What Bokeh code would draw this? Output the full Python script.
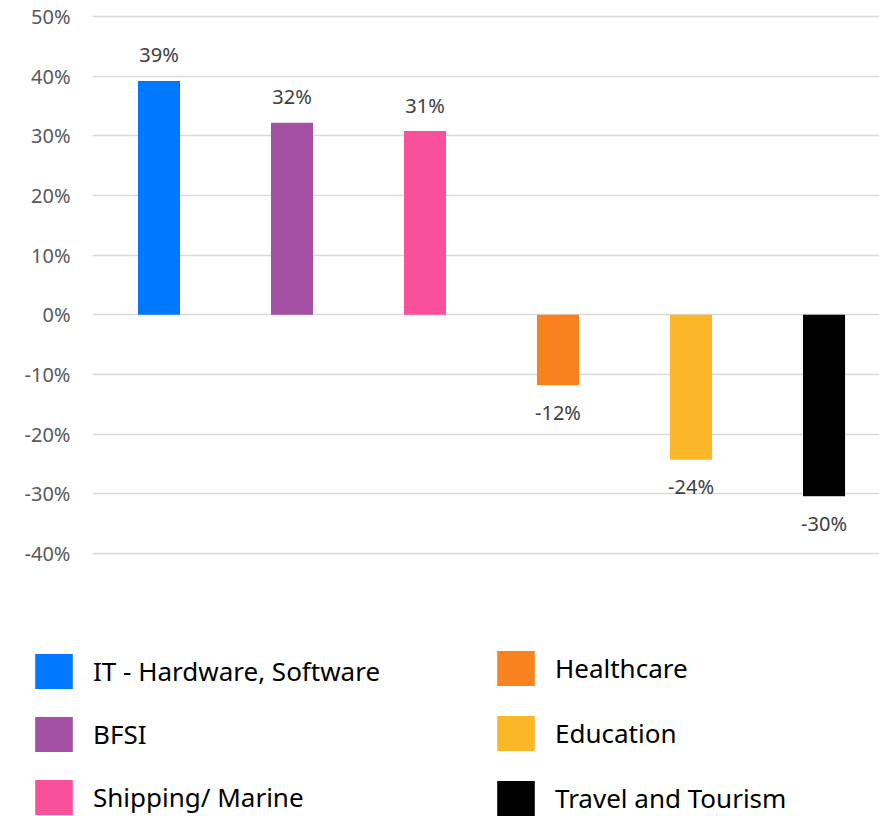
from bokeh.plotting import figure
from bokeh.models import ColumnDataSource, Range1d, FixedTicker, NumeralTickFormatter, Legend, LegendItem
from bokeh.layouts import column
from bokeh.embed import file_html
from bokeh.resources import INLINE
from bokeh.core.properties import value

categories = ["IT - Hardware, Software", "BFSI", "Shipping/ Marine",
              "Healthcare", "Education", "Travel and Tourism"]
growth = [0.392, 0.322, 0.308, -0.118, -0.243, -0.304]
bar_colors = ["#0079FF", "#A34FA3", "#F9509B", "#F7821E", "#FBB728", "#000000"]
y_ticks = [0.5, 0.4, 0.3, 0.2, 0.1, 0.0, -0.1, -0.2, -0.3, -0.4]

FONT = "Noto Sans"

idx = list(range(len(categories)))
labels = [f"{round(v * 100):d}%" for v in growth]
yoff = [-26 if v >= 0 else 27 for v in growth]

src = ColumnDataSource(dict(x=idx, growth=growth, color=bar_colors,
                            label=labels, yoff=yoff, cat=categories))

p = figure(width=879, height=568,
           x_range=Range1d(-0.5, 5.417), y_range=Range1d(-0.4251, 0.5268),
           output_backend="svg", toolbar_location=None,
           x_axis_location=None, y_axis_location="left",
           min_border_left=92, min_border_right=0, min_border_top=0, min_border_bottom=0,
           outline_line_color=None)
p.background_fill_color = None
p.border_fill_color = "white"

p.vbar(x="x", top="growth", bottom=0, width=0.316, fill_color="color",
       line_color=None, source=src)

p.text(x="x", y="growth", text="label", source=src, y_offset="yoff",
       text_align="center", text_baseline="middle",
       text_font=value(FONT), text_font_size="20px", text_color="#404040")

ticker = FixedTicker(ticks=y_ticks)
p.yaxis.ticker = ticker
p.yaxis.formatter = NumeralTickFormatter(format="0%")
p.yaxis.major_label_text_font = FONT
p.yaxis.major_label_text_font_size = "20px"
p.yaxis.major_label_text_color = "#595959"
p.yaxis.axis_line_color = None
p.yaxis.major_tick_line_color = None
p.yaxis.minor_tick_line_color = None
p.yaxis.major_tick_out = 0
p.yaxis.major_tick_in = 0
p.yaxis.major_label_standoff = 22
p.ygrid.ticker = ticker
p.ygrid.grid_line_color = "#D9D9D9"
p.ygrid.grid_line_width = 1.5
p.xgrid.visible = False

# legend panel (bars kept out of its visible ranges; only legend swatches show)
leg = figure(width=879, height=248, x_range=Range1d(100, 101), y_range=Range1d(100, 101),
             output_backend="svg", toolbar_location=None,
             x_axis_location=None, y_axis_location=None,
             min_border_left=0, min_border_right=0, min_border_top=0, min_border_bottom=0,
             outline_line_color=None)
frame_left = 92
if "frame_align" in leg.properties():
    leg.frame_align = False
    p.frame_align = False
    frame_left = 0
leg.xgrid.visible = False
leg.ygrid.visible = False
r = leg.vbar(x="x", top="growth", bottom=0, width=0.316, fill_color="color",
             line_color=None, source=src)

def make_legend(items, loc, spacing):
    return Legend(items=items, location=loc, orientation="vertical",
                  glyph_width=47, glyph_height=44, label_height=44,
                  label_standoff=16, spacing=spacing, padding=0, margin=0,
                  border_line_color=None, background_fill_alpha=0,
                  label_text_font=FONT, label_text_font_size="26px",
                  label_text_color="#000000", label_text_baseline="middle")

left_items = [LegendItem(label=categories[i], renderers=[r], index=i) for i in range(3)]
right_items = [LegendItem(label=categories[i], renderers=[r], index=i) for i in range(3, 6)]
leg.add_layout(make_legend(left_items, (30 - frame_left, -3), 19))
leg.add_layout(make_legend(right_items, (492 - frame_left, -4), 21))

layout = column(p, leg, spacing=0)
open("out.html", "w").write(file_html(layout, INLINE))
